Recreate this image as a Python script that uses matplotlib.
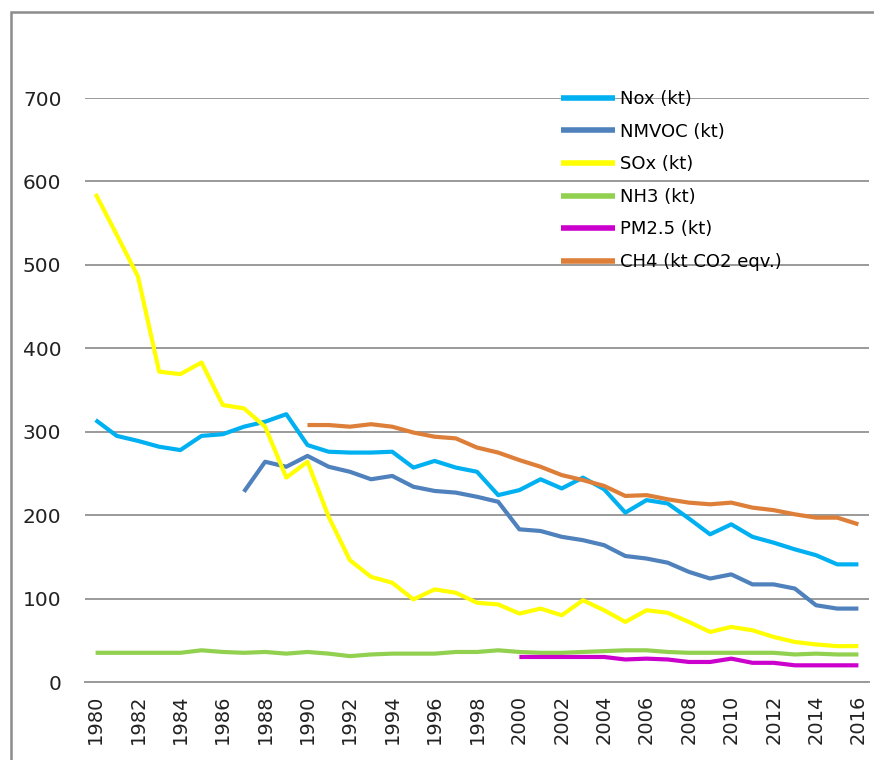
import matplotlib.pyplot as plt
from matplotlib.patches import Rectangle

years = list(range(1980, 2017))

nox = [314, 295, 289, 282, 278, 295, 297, 306, 312, 321,
       284, 276, 275, 275, 276, 257, 265, 257, 252, 224,
       230, 243, 232, 245, 231, 203, 218, 214, 196, 177,
       189, 174, 167, 159, 152, 141, 141]

nmvoc_years = list(range(1987, 2017))
nmvoc = [228, 264, 258, 271, 258, 252, 243, 247, 234, 229,
         227, 222, 216, 183, 181, 174, 170, 164, 151, 148,
         143, 132, 124, 129, 117, 117, 112, 92, 88, 88]

sox = [585, 536, 486, 372, 369, 383, 332, 328, 306, 245,
       264, 198, 146, 126, 119, 99, 111, 107, 95, 93,
       82, 88, 80, 98, 86, 72, 86, 83, 72, 60,
       66, 62, 54, 48, 45, 43, 43]

nh3 = [35, 35, 35, 35, 35, 38, 36, 35, 36, 34,
       36, 34, 31, 33, 34, 34, 34, 36, 36, 38,
       36, 35, 35, 36, 37, 38, 38, 36, 35, 35,
       35, 35, 35, 33, 34, 33, 33]

pm25_years = list(range(2000, 2017))
pm25 = [30, 30, 30, 30, 30, 27, 28, 27, 24, 24,
        28, 23, 23, 20, 20, 20, 20]

ch4_years = list(range(1990, 2017))
ch4 = [308, 308, 306, 309, 306, 299, 294, 292, 281, 275,
       266, 258, 248, 242, 235, 223, 224, 219, 215, 213,
       215, 209, 206, 201, 197, 197, 189]

series = [
    ('Nox (kt)', years, nox, '#00B0F0'),
    ('NMVOC (kt)', nmvoc_years, nmvoc, '#4F81BD'),
    ('SOx (kt)', years, sox, '#FFFF00'),
    ('NH3 (kt)', years, nh3, '#92D050'),
    ('PM2.5 (kt)', pm25_years, pm25, '#CC00CC'),
    ('CH4 (kt CO2 eqv.)', ch4_years, ch4, '#DD7F38'),
]

W, H = 874, 760
fig = plt.figure(figsize=(W / 100, H / 100), dpi=100)

# outer chart border
fig.patches.append(Rectangle((11 / W, -0.01), 1.0, 1 - 12 / H + 0.01,
                             transform=fig.transFigure, fill=False,
                             edgecolor='#8c8c8c', linewidth=1.8))

ax = fig.add_axes([85 / W, 1 - 682 / H, (869 - 85) / W, (682 - 98) / H])

for label, xs, ys, color in series:
    ax.plot(xs, ys, color=color, linewidth=3.0, label=label,
            solid_capstyle='butt', solid_joinstyle='round')

ax.set_xlim(1979.5, 2016.5)
ax.set_ylim(0, 700)
ax.set_yticks(range(0, 701, 100))
ax.set_xticks(years[::2])
ax.set_xticklabels([str(y) for y in years[::2]], rotation=90)

ax.grid(axis='y', color='#9a9a9a', linewidth=1.4)
ax.set_axisbelow(True)
for s in ['top', 'right', 'left']:
    ax.spines[s].set_visible(False)
ax.spines['bottom'].set_color('#9a9a9a')
ax.spines['bottom'].set_linewidth(1.4)
ax.tick_params(axis='y', length=0, pad=17, labelsize=14.5, labelcolor='#222222')
ax.tick_params(axis='x', length=0, pad=9, labelsize=14, labelcolor='#222222')

leg = ax.legend(loc='upper left', bbox_to_anchor=(561 / W, 1 - 90 / H),
                bbox_transform=fig.transFigure, frameon=False,
                fontsize=13, borderpad=0, borderaxespad=0,
                handlelength=3.0, handletextpad=0.25, labelspacing=0.81)
for line in leg.get_lines():
    line.set_linewidth(4)

fig.savefig('out.png', dpi=100)
